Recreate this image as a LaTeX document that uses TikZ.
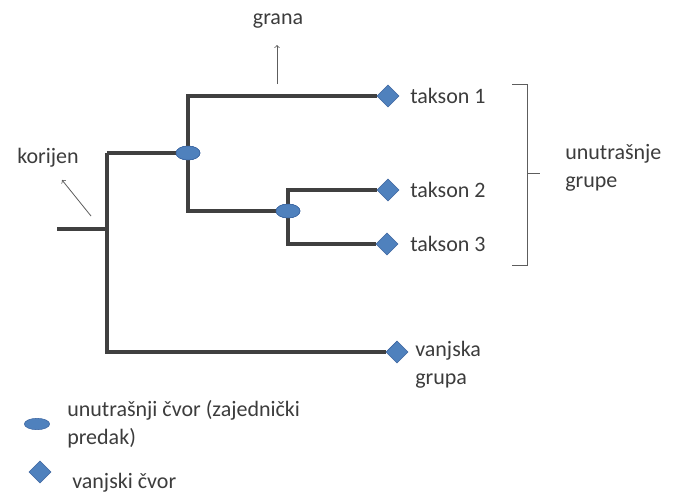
\documentclass[tikz,border=0pt]{standalone}
\usepackage{fontspec}
\setmainfont{Carlito}
\usetikzlibrary{shapes.geometric}

\definecolor{branchgray}{RGB}{64,64,64}
\definecolor{textgray}{RGB}{60,60,60}
\definecolor{nodeblue}{RGB}{79,129,189}
\definecolor{nodeline}{RGB}{58,100,160}

\tikzset{
  branch/.style={draw=branchgray, line width=2.4pt},
  thinline/.style={draw=branchgray!85, line width=0.6pt},
  pointer/.style={thinline, ->, >=to},
  leaf/.style={diamond, fill=nodeblue, draw=nodeline, line width=0.4pt, inner sep=0pt, minimum size=16.5pt},
  ancestor/.style={ellipse, fill=nodeblue, draw=nodeline, line width=0.4pt, inner sep=0pt, minimum width=18pt, minimum height=10.5pt},
  label/.style={text=textgray, font=\fontsize{16.5}{21}\selectfont, inner sep=0.75pt}
}

\begin{document}
\begin{tikzpicture}[x=0.75pt,y=0.75pt,yscale=-1,xscale=1]
\useasboundingbox (0,0) rectangle (677,496);

% internal nodes (common ancestors)
\node [ancestor] (anc1) at (188,153) {};
\node [ancestor] (anc2) at (288,211) {};
% leaves
\node [leaf] (t1) at (388,96) {};
\node [leaf] (t2) at (388,190) {};
\node [leaf] (t3) at (387,244) {};
\node [leaf] (out) at (397,352) {};
% root
\coordinate (root) at (57,229);
\coordinate (rootjoin) at (107,229);
\coordinate (rootknee) at (107,153);

% branches
\draw [branch] (root) -- (rootjoin);
\draw [branch] (rootknee) -- (anc1);
\draw [branch] (rootknee) |- (out);
\draw [branch] (anc1) |- (t1);
\draw [branch] (anc1) |- (anc2);
\draw [branch] (anc2) |- (t2);
\draw [branch] (anc2) |- (t3);
% redraw nodes on top
\node [ancestor] at (anc1) {};
\node [ancestor] at (anc2) {};

% Text Node
\node [label, anchor=west] (lt1) at (409,96) {takson 1};
\node [label, anchor=west] (lt2) at (409,190) {takson 2};
\node [label, anchor=west] (lt3) at (409,244) {takson 3};
\node [label, anchor=west, align=left] (lout) at (414,365) {vanjska\\grupa};
\node [label] (lgrana) at (278,21) {grana};
\node [label] (lroot) at (48,158) {korijen};
\node [label, anchor=west, align=left] (lin) at (564,168) {unutrašnje\\grupe};

% pointers
\coordinate (granafoot) at (277,84);
\coordinate (granatip) at (277,45);
\coordinate (rootfoot) at (91,216);
\coordinate (roottip) at (62,180);
\draw [pointer] (granafoot) -- (granatip);
\draw [pointer] (rootfoot) -- (roottip);

% bracket
\coordinate (brtop) at (512,84);
\coordinate (brbot) at (512,265);
\coordinate (brmid) at (540,173);
\draw [thinline] (brtop) -| (527,173) -- (brmid);
\draw [thinline] (brbot) -| (527,173);

% legend
\node [ancestor, minimum width=19pt, minimum height=8.5pt] (legA) at (37,424) {};
\node [label, anchor=west, align=left] (legAtxt) at (66,424) {unutrašnji čvor (zajednički\\predak)};
\node [leaf] (legL) at (40,472) {};
\node [label, anchor=west] (legLtxt) at (71,483) {vanjski čvor};

\end{tikzpicture}
\end{document}
